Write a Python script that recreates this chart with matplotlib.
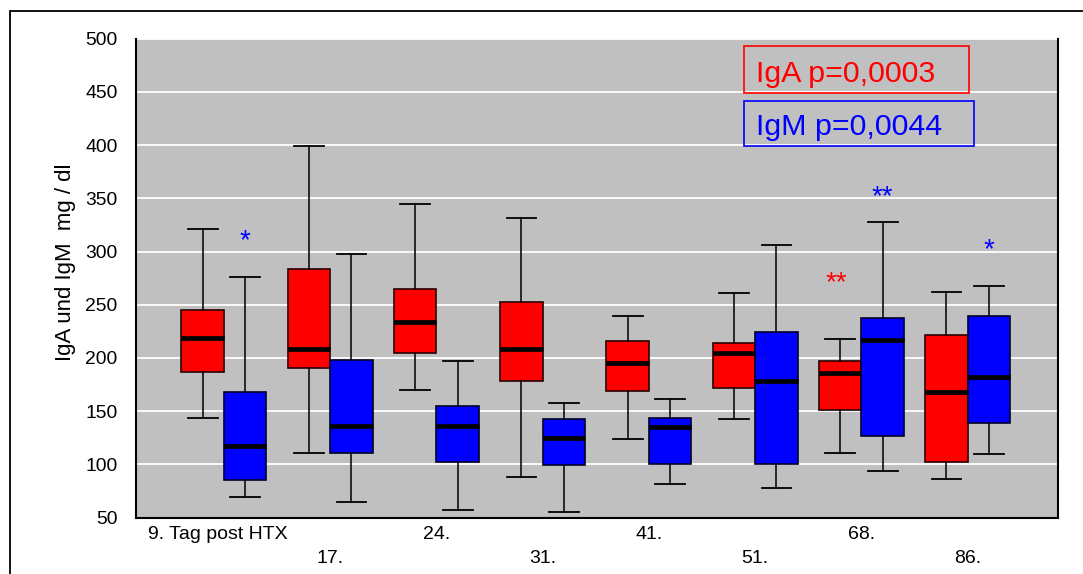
import matplotlib
matplotlib.use("Agg")
import matplotlib.pyplot as plt
from matplotlib.patches import Rectangle

plt.rcParams["font.family"] = ["Liberation Sans", "DejaVu Sans"]

# time points after transplantation
days = ["9. Tag post HTX", "17.", "24.", "31.", "41.", "51.", "68.", "86."]

# IgA (mg/dl): whisker low, Q1, median, Q3, whisker high
iga_low = [144, 111, 170, 88, 124, 143, 111, 86]
iga_q1 = [187, 191, 205, 178, 169, 172, 151, 102]
iga_med = [219, 208, 234, 208, 195, 205, 186, 168]
iga_q3 = [245, 284, 265, 253, 216, 214, 197, 222]
iga_high = [321, 399, 345, 332, 239, 261, 218, 262]

# IgM (mg/dl)
igm_low = [69, 65, 57, 55, 82, 78, 94, 110]
igm_q1 = [85, 111, 102, 99, 100, 100, 127, 139]
igm_med = [117, 136, 136, 125, 135, 178, 217, 182]
igm_q3 = [168, 198, 155, 143, 144, 224, 238, 239]
igm_high = [276, 298, 197, 158, 161, 306, 328, 268]

# significance marks: (group, series, text, y of the star centre)
marks = [(0, "IgM", "*", 314), (6, "IgA", "**", 274), (6, "IgM", "**", 355), (7, "IgM", "*", 305)]

fig = plt.figure(figsize=(10.83, 5.74), dpi=100)
ax = fig.add_axes([0.1253, 0.0983, 0.8516, 0.8341])
ax.set_facecolor("#c0c0c0")


def stats(low, q1, med, q3, high):
    return [dict(whislo=a, q1=b, med=c, q3=d, whishi=e, fliers=[])
            for a, b, c, d, e in zip(low, q1, med, q3, high)]


pos = list(range(len(days)))
common = dict(widths=0.4, capwidths=0.28, patch_artist=True, showfliers=False,
              whiskerprops=dict(color="black", lw=1.1),
              capprops=dict(color="black", lw=1.3),
              medianprops=dict(color="black", lw=3.4, solid_capstyle="butt"))
b1 = ax.bxp(stats(iga_low, iga_q1, iga_med, iga_q3, iga_high),
            positions=[p - 0.2 for p in pos], **common)
b2 = ax.bxp(stats(igm_low, igm_q1, igm_med, igm_q3, igm_high),
            positions=[p + 0.2 for p in pos], **common)
for box in b1["boxes"]:
    box.set(facecolor="#ff0000", edgecolor="#2a0000", lw=1.2)
for box in b2["boxes"]:
    box.set(facecolor="#0000ff", edgecolor="#00002a", lw=1.2)

# stars: the asterisk sits well above the baseline
for g, series, txt, y in marks:
    x = g - 0.24 if series == "IgA" else g + 0.2
    col = "#ff0000" if series == "IgA" else "#0000ff"
    ax.text(x, y - 10.5, txt, color=col, fontsize=20, ha="center", va="baseline")

ax.set_xlim(-0.83, 7.85)
ax.set_ylim(50, 500)
ax.set_yticks(range(50, 501, 50))
ax.set_yticklabels([str(v) for v in range(50, 501, 50)], fontsize=13.9)
ax.tick_params(axis="y", length=0, pad=13)
ax.set_xticks([])
ax.yaxis.grid(True, color="white", lw=1.3)
ax.set_axisbelow(True)

for s in ["left", "bottom", "right"]:
    ax.spines[s].set_color("black")
    ax.spines[s].set_linewidth(1.5)
ax.spines["top"].set_visible(False)

# staggered day labels under the axis
for i, lab in enumerate(days):
    y = -0.036 if i % 2 == 0 else -0.085
    x = i - 0.06 if i == 0 else i
    ax.text(x, y, lab, transform=ax.get_xaxis_transform(), ha="center", va="center",
            fontsize=14)

ax.set_ylabel("IgA und IgM  mg / dl", fontsize=16)
ax.yaxis.set_label_coords(-0.065, 0.533)

# p-value boxes
ax.add_patch(Rectangle((0.6599, 0.8862), 0.2433, 0.0982, transform=ax.transAxes,
                       fill=False, edgecolor="#ff0000", lw=1.2, zorder=5))
ax.add_patch(Rectangle((0.6599, 0.7755), 0.2494, 0.0952, transform=ax.transAxes,
                       fill=False, edgecolor="#0000ff", lw=1.2, zorder=5))
ax.text(0.673, 0.9104, "IgA p=0,0003", transform=ax.transAxes, color="#ff0000",
        fontsize=21.9, ha="left", va="baseline")
ax.text(0.673, 0.7991, "IgM p=0,0044", transform=ax.transAxes, color="#0000ff",
        fontsize=21.9, ha="left", va="baseline")

# outer frame
fig.add_artist(Rectangle((0.0088, -0.2), 1.2, 1.18, transform=fig.transFigure,
                         fill=False, edgecolor="black", lw=1.3))

fig.savefig("out.png", dpi=100)
